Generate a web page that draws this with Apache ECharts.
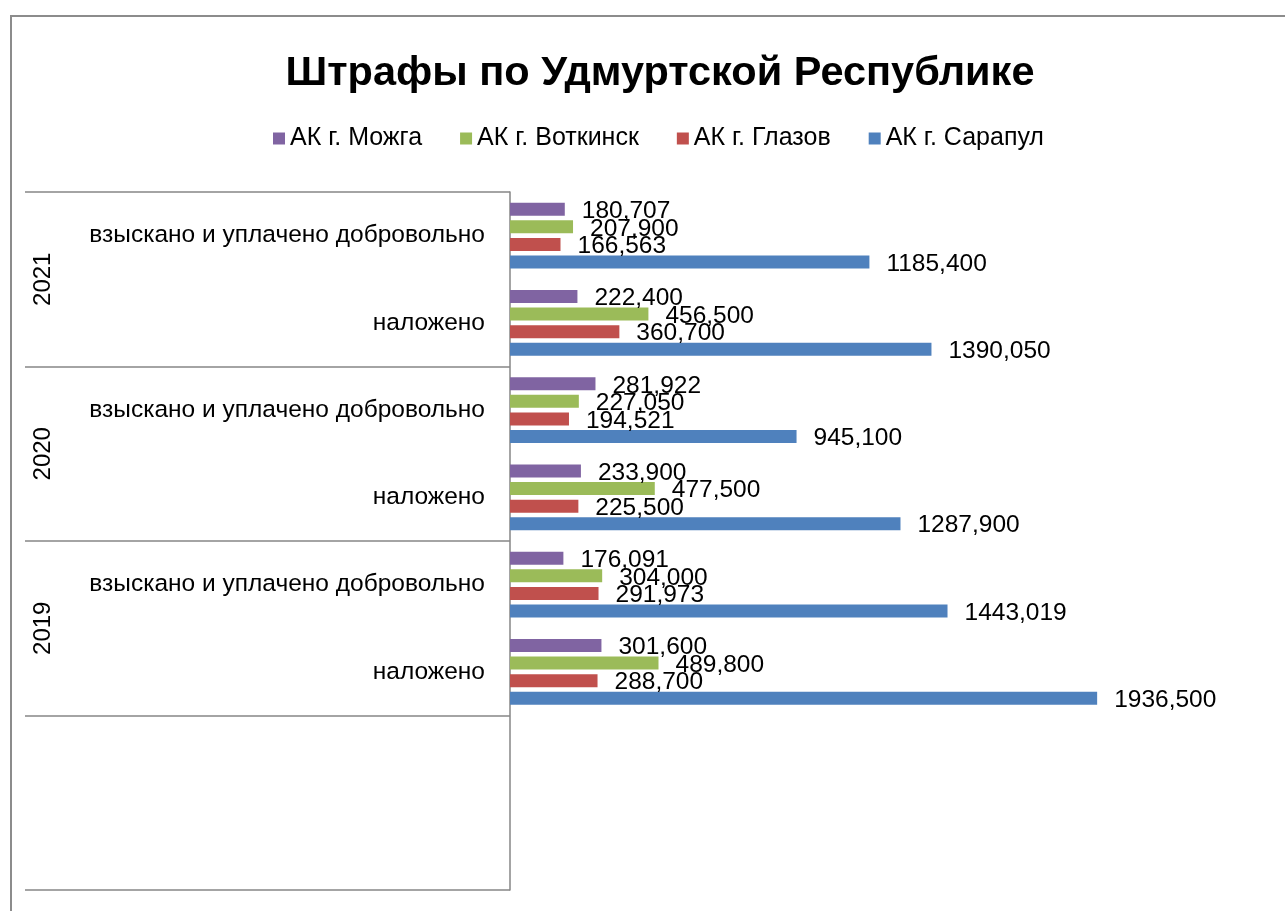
<!DOCTYPE html>
<html>
<head>
<meta charset="utf-8">
<script src="https://cdn.jsdelivr.net/npm/echarts@6/dist/echarts.min.js"></script>
<style>
  html, body { margin: 0; padding: 0; background: #fff; }
  #chart { width: 1285px; height: 911px; }
</style>
</head>
<body>
<div id="chart"></div>
<script>
// categories from bottom to top, the two blank ones make the empty lower block
const categories = [' ', '  ', 'наложено', 'взыскано и уплачено добровольно', 'наложено', 'взыскано и уплачено добровольно', 'наложено', 'взыскано и уплачено добровольно'];
const years = ['', '2019', '2020', '2021'];

const sarapul  = [null, null, 1936500, 1443019, 1287900, 945100, 1390050, 1185400];
const glazov   = [null, null, 288700, 291973, 225500, 194521, 360700, 166563];
const votkinsk = [null, null, 489800, 304000, 477500, 227050, 456500, 207900];
const mozhga   = [null, null, 301600, 176091, 233900, 281922, 222400, 180707];

const font = 'Liberation Sans';

function fmt(v) {
    const th = Math.floor(v / 1000);
    const rest = String(v % 1000).padStart(3, '0');
    return th + ',' + rest;
}

function makeSeries(name, data, color) {
    return {
        name,
        type: 'bar',
        data,
        yAxisIndex: 0,
        barWidth: 13,
        barGap: '35%',
        itemStyle: { color },
        label: {
            show: true,
            position: 'right',
            distance: 17,
            offset: [0, 2],
            fontFamily: font,
            fontSize: 24.5,
            color: '#000',
            formatter: p => fmt(p.value)
        }
    };
}

let chart = echarts.init(document.getElementById('chart'));
chart.setOption({
    animation: false,
    title: {
        text: 'Штрафы по Удмуртской Республике',
        left: 655,
        textAlign: 'center',
        top: 48,
        textStyle: { fontFamily: font, fontSize: 41.5, fontWeight: 'bold', color: '#000' }
    },
    legend: {
        data: ['АК г. Можга', 'АК г. Воткинск', 'АК г. Глазов', 'АК г. Сарапул'],
        left: 268,
        top: 121,
        itemWidth: 12,
        itemHeight: 12,
        itemGap: 38,
        icon: 'rect',
        textStyle: { fontFamily: font, fontSize: 25, color: '#000' }
    },
    grid: { left: 510, right: 17, top: 192, bottom: 21 },
    xAxis: {
        type: 'value',
        min: 0,
        max: 2500000,
        show: false
    },
    yAxis: [
        {
            type: 'category',
            data: categories,
            axisLine: { show: true, lineStyle: { color: '#868686', width: 1.5 } },
            axisTick: { show: false },
            axisLabel: { margin: 25, fontFamily: font, fontSize: 24.5, color: '#000' }
        },
        {
            type: 'category',
            data: years,
            position: 'left',
            offset: 485,
            axisLine: { show: false },
            axisTick: { show: true, inside: true, length: 485, lineStyle: { color: '#868686', width: 1.5 } },
            axisLabel: { inside: true, rotate: 90, margin: 6, fontFamily: font, fontSize: 24, color: '#000' }
        }
    ],
    graphic: [{
        type: 'rect',
        shape: { x: 11, y: 16, width: 1400, height: 1000 },
        style: { fill: null, stroke: '#8c8c8c', lineWidth: 2 },
        silent: true
    }],
    series: [
        makeSeries('АК г. Можга', mozhga, '#8064A2'),
        makeSeries('АК г. Воткинск', votkinsk, '#9BBB59'),
        makeSeries('АК г. Глазов', glazov, '#C0504D'),
        makeSeries('АК г. Сарапул', sarapul, '#4F81BD')
    ]
});
</script>
</body>
</html>
